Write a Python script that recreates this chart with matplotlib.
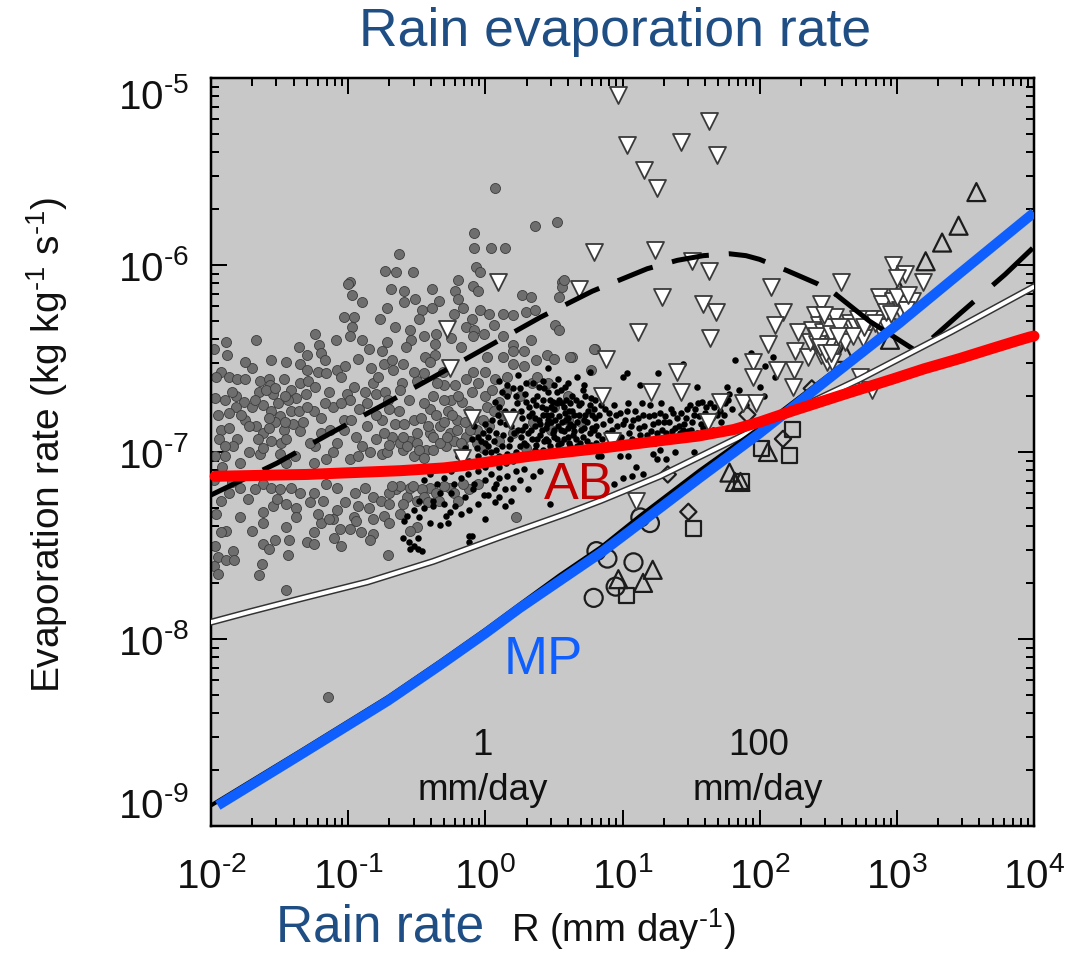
import matplotlib
matplotlib.use("Agg")
import matplotlib.pyplot as plt
import numpy as np
from matplotlib.ticker import LogLocator, NullFormatter, FixedLocator

plt.rcParams['font.family'] = ['Liberation Sans', 'DejaVu Sans']
plt.rcParams['mathtext.fontset'] = 'custom'
plt.rcParams['mathtext.rm'] = 'Liberation Sans'
plt.rcParams['mathtext.default'] = 'rm'

# all values are log10(R), log10(E)
gray_obs = [(-.08,-5.83),(-.08,-5.91),(.04,-5.91),(.14,-5.91),(-.63,-5.94),(-.07,-6.01),(-.04,-6.04),(-.73,-6.03),(-.65,-6.04),(-.53,-6.04),
(-.2,-6.08),(-.99,-6.09),(-1.0,-6.1),(-.69,-6.13),(-.59,-6.14),(-.39,-6.13),(-.09,-6.11),(-.05,-6.14),(-.22,-6.14),(-.97,-6.16),
(-.9,-6.2),(-.51,-6.18),(-.59,-6.2),(-.34,-6.19),(-.2,-6.18),(-.16,-6.23),(.27,-6.16),(.33,-6.17),(.56,-6.09),(.56,-6.12),(.54,-6.17),
(-.72,-6.23),(-.77,-6.29),(-1.03,-6.28),(-.96,-6.28),(-.97,-6.33),(-.99,-6.38),(-.66,-6.33),(-.46,-6.24),(-.39,-6.23),(-.48,-6.29),
(-.23,-6.26),(-.04,-6.24),(.03,-6.26),(.13,-6.26),(.2,-6.27),(.3,-6.25),(.36,-6.24),(.51,-6.32),(.54,-6.35),(-.1,-6.29),(.06,-6.32),
(-.14,-6.33),(-.08,-6.35),(-.01,-6.37),(-.55,-6.35),(-.54,-6.4),(-.45,-6.38),(-.36,-6.37),(-.37,-6.42),(-.25,-6.39),(-.09,-6.38),
(.13,-6.38),(.33,-6.4),(-1.89,-6.41),(-1.67,-6.4),(-1.24,-6.37),(-1.09,-6.4),(-1.88,-6.48),(-1.36,-6.44),(-1.21,-6.43),(-1.2,-6.47),
(-1.17,-6.51),(-1.56,-6.51),(-.85,-6.45),(-.93,-6.5),(-.58,-6.44),(-.18,-6.44),(-.44,-6.49),(-.37,-6.48),(-.4,-6.52),(-.74,-6.53),
(-.68,-6.51),(-.67,-6.56),(.2,-6.43),(.2,-6.46),(.28,-6.46),(.8,-6.45),(.63,-6.49),(.45,-6.48),(.5,-6.5),(.37,-6.51),(.01,-6.49),
(.13,-6.49),(.2,-6.53),(.28,-6.54),(.16,-6.6),(.07,-6.61),(0,-6.57),(-.09,-6.57),(-.14,-6.61),(-.31,-6.57),(-1.35,-6.53),(-1.3,-6.56),
(-1.22,-6.57),(-1.16,-6.58),(-1.08,-6.56),(-1.02,-6.54),(-1.93,-6.57),(-1.87,-6.6),(-1.81,-6.61),(-1.75,-6.61),(-1.64,-6.62),
(-1.58,-6.61),(-1.57,-6.64),(-1.65,-6.68),(-1.47,-6.61),(-1.42,-6.67),(-1.35,-6.63),(-1.29,-6.62),(-1.24,-6.65),(-1.31,-6.69),
(-1.38,-6.71),(-1.14,-6.68),(-.96,-6.65),(-1.01,-6.69),(-.99,-6.72),(-.82,-6.63),(-.88,-6.68),(-.8,-6.69),(-.73,-6.68),(-.71,-6.72),
(-.61,-6.63),(-.62,-6.67),(-.38,-6.7),(-.3,-6.64),(-.22,-6.64),(0,-6.7),(.05,-6.67),(.34,-6.63),(-1.97,-6.71),(-1.82,-6.7),(-1.76,-6.73),
(-1.82,-6.76),(-1.87,-6.79),(-1.62,-6.75),(-1.55,-6.69),(-1.51,-6.74),(-1.56,-6.78),(-1.5,-6.81),(-1.42,-6.78),(-1.53,-6.84),(-1.4,-6.85),
(-1.75,-6.83),(-1.67,-6.86),(-1.62,-6.9),(-1.93,-6.88),(-1.87,-6.87),(-1.35,-6.89),(-1.25,-6.78),(-1.11,-6.76),(-1.2,-6.82),(-1.03,-6.83),
(-1.03,-6.88),(-.94,-6.92),(-.9,-6.97),(-.75,-6.83),(-.63,-6.78),(-.66,-6.85),(-.52,-6.83),(-.4,-6.77),(-.27,-6.78),(-.17,-6.73),(.01,-6.76),
(-.33,-6.86),(-.21,-6.83),(-.68,-6.92),(-.55,-6.94),(-.4,-6.9),(-.26,-6.9),(-.14,-6.92),(-.06,-6.88),(-1.81,-6.93),(-1.84,-6.97),(-1.66,-6.93),
(-1.56,-6.94),(-1.49,-6.95),(-1.64,-7.01),(-1.5,-7.01),(-1.97,-7.02),(-1.9,-7.02),(-1.79,-7.06),(-1.39,-7.02),(-1.24,-6.97),(-1.08,-6.95),
(-1.11,-7.0),(-1.16,-7.04),(-.99,-7.04),(-.93,-7.02),(-.75,-7.01),(-.6,-6.99),(-.52,-7.02),(-.43,-6.99),(-.29,-6.97),(-.16,-6.97),(-.06,-6.95),
(-1.79,-7.19),(-1.87,-7.22),(-1.93,-7.26),(-1.73,-7.25),(-1.62,-7.17),(-1.56,-7.19),(-1.5,-7.2),(-1.42,-7.19),(-1.35,-7.22),(-1.28,-7.27),
(-1.18,-7.26),(-1.16,-7.17),(-1.08,-7.19),(-.88,-7.19),(-.82,-7.24),(-.76,-7.26),(-.65,-7.2),(-.57,-7.24),(-.5,-7.26),(-.4,-7.19),(-.26,-7.19),
(-.23,-7.22),(-1.96,-7.33),(-1.79,-7.35),(-1.62,-7.32),(-1.55,-7.29),(-1.62,-7.38),(-1.38,-7.3),(-1.38,-7.35),(-.93,-7.29),(-1.08,-7.31),
(-1.11,-7.36),(-.82,-7.36),(-.74,-7.34),(-.62,-7.33),(-.96,-7.35),(-1.2,-7.38),(-1.14,-7.36),(-1.06,-7.41),(-.99,-7.41),(-.5,-7.4),(.22,-7.35),
(-1.89,-7.42),(-1.25,-7.43),(-.91,-7.43),(-.82,-7.44),(-.84,-7.47),(-1.1,-7.46),(-1.3,-7.48),(-1.25,-7.49),(-1.62,-7.49),(-1.53,-7.47),
(-1.43,-7.47),(-1.58,-7.52),(-1.84,-7.53),(-1.95,-7.56),(-1.89,-7.58),(-1.83,-7.58),(-1.44,-7.55),(-.71,-7.55),(-1.63,-7.6),(-1.98,-7.61),
(-1.95,-7.65),(-1.65,-7.66),(-1.45,-7.74),(-1.15,-8.31),(.07,-5.59),(.36,-5.79),(.52,-5.77),(.62,-6.49),(.79,-6.45),(.77,-6.56),(.57,-6.08),
(-.62,-6.95),(-.57,-6.97),(-.5,-6.95),(-.48,-6.99),(-.38,-6.92),(-.33,-6.95),(-.23,-6.94),(-.21,-6.88),(-.11,-6.88),(-.18,-6.95),(-.5,-6.9),
(-.6,-6.92),(-.38,-6.99),(-.72,-7.0),(-.84,-7.0),(-.62,-7.18),(-.55,-7.19),(-.46,-7.2),(-.36,-7.22),(-.3,-7.18),(-.45,-7.24),(-.7,-7.22),
(-1.7,-6.76),(-1.47,-6.88),(-1.58,-6.87),(-1.94,-6.93),(-1.44,-6.72),(-1.62,-6.98),(-1.72,-7.0),(-.25,-6.72),(.48,-6.88),(.6,-6.83),(.3,-6.98)]

gray_extra = [(-1.98,-6.45),(-1.96,-6.6),(-1.95,-6.8),(-1.9,-6.72),(-1.85,-6.68),(-1.78,-6.8),(-1.72,-6.86),(-1.68,-6.72),(-1.6,-6.67),(-1.58,-6.82),
(-1.53,-6.66),(-1.46,-6.7),(-1.46,-6.84),(-1.45,-6.93),(-1.36,-6.78),(-1.33,-6.84),(-1.3,-6.76),(-1.28,-6.95),(-1.2,-6.9),(-1.17,-6.74),(-1.13,-6.88),
(-1.05,-6.74),(-.98,-6.83),(-.92,-6.77),(-.86,-6.86),(-.86,-6.74),(-.8,-6.8),(-.8,-6.93),(-.74,-6.9),(-.7,-6.77),(-.59,-6.85),(-.56,-6.72),(-.47,-6.82),
(-.45,-6.74),(-.42,-6.86),(-.36,-6.8),(-.3,-6.84),(-.28,-6.92),(-.24,-6.8),(-.15,-6.84),(-.12,-6.78),(-.08,-6.82),(-.02,-6.83),(.03,-6.86),(.06,-6.78),
(-.3,-6.72),(-.2,-6.7),(-.1,-6.68),(.1,-6.73),(.15,-6.68),(.25,-6.7),(.38,-6.6),(.46,-6.63),(.6,-6.7),(-.05,-6.63),(-.35,-6.63),(-.5,-6.62),(-.78,-6.6),
(-.75,-6.46),(-.6,-6.53),(-.52,-6.57),(-.45,-6.58),(-.72,-6.41),(-.83,-6.55),(-.9,-6.4),(-1.3,-6.48),(-1.45,-6.52),(-1.7,-6.55),(-1.75,-6.52),
(-1.92,-7.08),(-1.85,-7.16),(-1.68,-7.2),(-1.52,-7.25),(-1.45,-7.28),(-1.25,-7.22),(-1.22,-7.33),(-1.02,-7.27),(-.95,-7.22),(-.85,-7.3),(-.7,-7.28),(-.68,-7.18),
(-.6,-7.28),(-.53,-7.18),(-.42,-7.27),(-.34,-7.26),(-.2,-7.26),(-.12,-7.2),(-.05,-7.17),(-.16,-7.17),(-1.7,-7.42),(-1.45,-7.4),(-1.05,-7.5),(-.94,-7.37),
(-.7,-7.38),(-.55,-7.42),(-1.98,-7.15),(-1.93,-7.43),(-1.97,-7.5),(-1.05,-6.6),(-.45,-7.03),(-.7,-6.96),(-1.25,-7.06),(-1.45,-7.06),(-1.9,-6.97),(.1,-6.94),
(.2,-6.9),(.35,-6.84),(.5,-6.76),(.7,-6.84),(.13,-6.8),(-.02,-6.98)]

black_dots = [(.05,-6.83),(.08,-6.9),(.1,-6.76),(.12,-6.97),(.15,-6.85),(.16,-6.7),(.18,-6.93),(.2,-6.78),(.22,-7.0),(.24,-6.88),(.25,-6.66),(.27,-6.82),
(.28,-6.95),(.3,-6.73),(.31,-6.9),(.33,-7.02),(.34,-6.79),(.35,-6.63),(.36,-6.86),(.37,-6.96),(.38,-6.7),(.39,-6.83),(.4,-6.91),(.41,-6.76),(.42,-6.99),
(.43,-6.66),(.44,-6.87),(.45,-6.8),(.46,-6.94),(.47,-6.72),(.48,-6.84),(.49,-6.9),(.5,-6.77),(.51,-7.0),(.52,-6.68),(.53,-6.86),(.54,-6.81),(.55,-6.95),
(.56,-6.74),(.57,-6.89),(.58,-6.65),(.59,-6.83),(.6,-6.92),(.61,-6.78),(.62,-6.97),(.63,-6.7),(.64,-6.86),(.65,-6.8),(.66,-6.93),(.68,-6.75),(.7,-6.88),
(.71,-6.67),(.72,-6.83),(.74,-6.94),(.75,-6.78),(.77,-6.71),(.78,-6.87),(.8,-6.82),(.82,-6.91),(.84,-6.75),(.86,-6.85),(.88,-6.97),(.9,-6.79),
(.09,-6.8),(.13,-6.91),(.19,-6.86),(.23,-6.74),(.26,-6.92),(.29,-6.86),(.32,-6.81),(.34,-6.93),(.37,-6.75),(.4,-6.85),(.42,-6.8),(.44,-6.93),(.46,-6.83),
(.48,-6.76),(.5,-6.88),(.52,-6.93),(.54,-6.72),(.56,-6.84),(.58,-6.79),(.6,-6.87),(.62,-6.74),(.65,-6.89),(.67,-6.84),(.69,-6.95),(.73,-6.8),(.76,-6.9),
(.79,-6.77),(.81,-6.95),(-.15,-6.98),(-.1,-6.93),(-.05,-7.02),(-.02,-6.9),(.02,-6.97),(-.12,-7.05),(-.25,-7.1),
(.92,-6.88),(.95,-6.8),(.97,-6.93),(1.0,-6.85),(1.03,-6.78),(1.05,-6.9),(1.08,-6.83),(1.1,-6.94),(1.12,-6.87),(1.15,-6.8),(1.18,-6.91),(1.2,-6.75),
(1.22,-6.85),(1.25,-6.9),(1.27,-6.79),(1.3,-6.84),(1.32,-6.9),(1.35,-6.77),(1.38,-6.87),(1.4,-6.82),(1.42,-6.9),(1.45,-6.85),(1.47,-6.77),(1.5,-6.88),
(1.52,-6.8),(1.55,-6.74),(1.57,-6.85),(1.6,-6.79),(1.62,-6.9),(1.65,-6.82),(1.67,-6.76),(1.7,-6.72),(1.72,-6.84),(1.75,-6.74),(1.78,-6.69),
(1.0,-6.6),(1.03,-6.58),(1.26,-6.58),(1.44,-6.53),(1.13,-6.64),(1.54,-6.65),(1.76,-6.65),(1.82,-6.51),(1.94,-6.47),(2.1,-6.49),(2.0,-6.65),(2.03,-6.7),
(2.04,-6.54),(2.11,-6.6),(.98,-7.02),(1.04,-7.02),(1.22,-7.01),(1.27,-6.99),(1.52,-7.0),(1.38,-7.0),(1.25,-7.04),(1.32,-7.04),(1.1,-7.08),(1.15,-7.12),
(1.0,-7.14),(.94,-7.17),(1.07,-7.13),(.84,-7.02),(-.57,-7.34),(-.59,-7.37),(-.38,-7.29),(-.4,-7.38),(-.33,-7.39),(-.27,-7.38),(-.29,-7.34),(-.26,-7.32),
(-.18,-7.33),(-.12,-7.31),(-.01,-7.23),(.07,-7.27),(0,-7.36),(.14,-7.29),(.19,-7.26),(.47,-7.28),(.31,-7.2),(.2,-7.19),(.06,-7.19),(-.09,-7.2),(-.23,-7.17),
(-.33,-7.22),(-.38,-7.26),(-.48,-7.35),(-.52,-7.31),(.35,-7.13),(.4,-7.1),(.25,-7.15),(.82,-7.02),(.79,-6.88),(-.6,-7.46),(-.56,-7.48),(-.52,-7.5),(-.49,-7.52),
(-.46,-7.53),(-.49,-7.46),(-.55,-7.52),(-.12,-7.45),(-.1,-7.45),(-.12,-7.48),(0,-6.95),(-.05,-6.92),(0,-7.0),(.05,-7.05),(.1,-7.08),(.15,-7.06),(.2,-7.05),
(.12,-6.68),(.24,-6.59),(.46,-6.55),(.67,-6.6),(.53,-6.61),(.76,-6.57)]

black_extra = [(.03,-6.88),(.06,-6.94),(.07,-6.73),(.11,-6.84),(.14,-6.78),(.17,-6.97),(.17,-6.82),(.21,-6.9),(.22,-6.7),(.25,-6.97),(.26,-6.78),(.27,-6.88),(.29,-6.69),
(.3,-6.96),(.32,-6.76),(.33,-6.88),(.35,-6.72),(.36,-6.99),(.36,-6.82),(.38,-6.93),(.39,-6.65),(.41,-6.88),(.42,-6.72),(.43,-6.94),(.44,-6.77),(.45,-6.85),(.46,-6.68),
(.47,-6.97),(.48,-6.8),(.49,-6.73),(.5,-6.92),(.51,-6.83),(.52,-6.74),(.53,-6.96),(.55,-6.67),(.55,-6.88),(.57,-6.76),(.57,-6.93),(.59,-6.72),(.6,-6.82),(.61,-6.95),
(.62,-6.85),(.63,-6.78),(.64,-6.91),(.66,-6.72),(.67,-6.97),(.68,-6.8),(.7,-6.74),(.71,-6.92),(.72,-6.87),(.73,-6.7),(.74,-6.84),(.76,-6.75),(.77,-6.96),(.78,-6.8),
(.8,-6.72),(.81,-6.86),(.83,-6.8),(.85,-6.93),(.87,-6.77),(.89,-6.9),(.91,-6.83),(.93,-6.96),(.94,-6.75),(.96,-6.86),(.98,-6.79),(.99,-6.92),(1.01,-6.96),(1.02,-6.83),
(1.04,-6.74),(1.06,-6.86),(1.07,-6.93),(1.09,-6.78),(1.11,-6.82),(1.13,-6.91),(1.14,-6.74),(1.16,-6.86),(1.17,-6.95),(1.19,-6.81),(1.21,-6.89),(1.23,-6.8),(1.24,-6.95),
(1.26,-6.84),(1.28,-6.74),(1.29,-6.88),(1.31,-6.81),(1.33,-6.93),(1.34,-6.84),(1.36,-6.89),(1.37,-6.79),(1.39,-6.93),(1.41,-6.86),(1.43,-6.79),(1.44,-6.88),(1.46,-6.82),
(1.48,-6.89),(1.49,-6.75),(1.51,-6.84),(1.53,-6.77),(1.54,-6.9),(1.56,-6.81),(1.58,-6.73),(1.59,-6.87),(1.61,-6.76),(1.63,-6.83),(1.64,-6.74),(1.66,-6.88),(1.69,-6.8),
(1.71,-6.78),(1.74,-6.8),(1.77,-6.72),(1.8,-6.77),(1.85,-6.67),(1.9,-6.75),(.1,-6.62),(.16,-6.64),(.2,-6.66),(.3,-6.63),(.42,-6.62),(.5,-6.64),(.6,-6.63),(.72,-6.64),
(-.08,-6.86),(-.06,-6.98),(-.03,-6.94),(0,-6.85),(.02,-6.92),(.04,-7.0),(.08,-6.99),(.1,-7.02),(.16,-7.01),(.26,-7.02),(-.2,-7.02),(-.22,-7.07),(-.3,-7.14),
(-.18,-7.14),(-.13,-7.12),(-.05,-7.1),(0,-7.08),(.04,-7.12),(.1,-7.14),(.16,-7.13),(.22,-7.1),(.28,-7.09),(-.08,-7.17),(0,-7.15),(.08,-7.17),(.14,-7.2),
(-.35,-7.17),(-.4,-7.12),(-.45,-7.15),(-.25,-7.22),(-.15,-7.24),(-.05,-7.28),(.02,-7.23),(.1,-7.24),(-.22,-7.29),(-.3,-7.28),(-.45,-7.3),(-.48,-7.26)]

tri_down = [(.97,-5.09),(1.03,-5.36),(1.16,-5.49),(1.43,-5.34),(1.63,-5.23),(1.69,-5.41),(1.25,-5.59),(1.24,-5.92),(.79,-5.93),(.09,-6.09),(.68,-6.13),
(1.29,-6.17),(1.51,-5.98),(1.63,-6.03),(1.59,-6.21),(1.68,-6.25),(1.11,-6.36),(1.64,-6.39),(-.28,-6.34),(-.26,-6.55),(-.10,-6.82),(.18,-6.83),(-.17,-7.03),
(.88,-6.50),(2.08,-6.12),(2.17,-6.25),(2.11,-6.32),(2.06,-6.42),(1.95,-6.52),(1.40,-6.57),(1.95,-6.60),(2.13,-6.56),(2.25,-6.56),(2.24,-6.65),(1.21,-6.68),
(1.43,-6.68),(.85,-6.70),(1.71,-6.73),(1.88,-6.74),(1.97,-6.74),(1.62,-6.84),(.92,-6.94),(1.10,-7.26),(2.59,-6.09),(2.45,-6.21),(2.28,-6.36),(2.26,-6.46),
(2.35,-6.49),(2.97,-6.0),(3.06,-6.05),(3.0,-6.07),(3.19,-6.09),(2.87,-6.17),(2.89,-6.21),(2.97,-6.19),(3.04,-6.21),(3.11,-6.19),(3.02,-6.24),(2.88,-6.29),
(2.78,-6.34),(2.66,-6.35),(2.55,-6.28),(2.40,-6.27),(2.43,-6.32),(2.38,-6.35),(2.46,-6.36),(2.55,-6.41),(2.56,-6.44),(2.37,-6.41),(2.66,-6.31),(2.45,-6.48),
(2.49,-6.52),(2.53,-6.52),(2.73,-6.60),(2.82,-6.67),(2.88,-6.34),(2.75,-6.39),(2.93,-6.33),(3.07,-6.24),(2.5,-6.33),(2.6,-6.38),(2.42,-6.42),(2.7,-6.33),(2.8,-6.29),
(2.47,-6.27),(2.41,-6.38),(2.52,-6.37),(2.58,-6.33),(2.62,-6.41),(2.68,-6.38),(2.72,-6.29),(2.76,-6.33),(2.84,-6.31),(2.92,-6.25),(2.96,-6.26),(3.0,-6.17),(3.08,-6.16),
(2.5,-6.44),(2.44,-6.44),(2.48,-6.47),(2.52,-6.47),(2.57,-6.38)]
tri_up = [(3.58,-5.61),(3.45,-5.79),(3.33,-5.88),(3.21,-5.98),(3.02,-6.14),(2.06,-7.0),(1.78,-7.11),(1.82,-7.16),(1.86,-7.16),(.97,-7.68),(1.22,-7.63),
(1.15,-7.70),(2.62,-6.47),(2.56,-6.35),(2.95,-6.40)]
circles = [(1.13,-7.35),(1.20,-7.38),(.81,-7.53),(.89,-7.57),(1.08,-7.59),(.95,-7.72),(.79,-7.78)]
squares = [(1.52,-7.41),(1.03,-7.77),(2.22,-7.02),(1.87,-7.16),(2.24,-6.88),(2.01,-6.98)]
diamonds = [(1.48,-7.32),(2.17,-6.93),(1.33,-7.12),(1.91,-6.80),(2.38,-6.66)]

ab_logR = [-1.97,-1.3,-.62,-.3,-.13,.1,.35,.6,.84,1.27,1.55,1.81,2.0,2.12,2.24,2.6,2.97,3.2,3.46,3.7,3.9,3.97,4.0]
ab_logE = [-7.13,-7.12,-7.10,-7.085,-7.07,-7.045,-7.02,-7.0,-6.98,-6.94,-6.915,-6.88,-6.84,-6.81,-6.78,-6.695,-6.61,-6.555,-6.50,-6.445,-6.40,-6.385,-6.38]
mp_logR = [-1.95,-1.35,-.71,-.33,0,.25,.54,.85,1.13,1.56,2.0,2.5,3.02,3.45,3.85,4.0]
mp_logE = [-8.89,-8.62,-8.33,-8.14,-7.97,-7.835,-7.69,-7.535,-7.38,-7.14,-6.90,-6.61,-6.31,-6.05,-5.81,-5.72]
thin_logR = [-2,-1.35,-.71,-.33,0,.25,.54,.85,1.13,1.56,2.0,2.5,3.02,3.45,4.0]
thin_logE = [-8.89,-8.60,-8.31,-8.12,-7.95,-7.815,-7.66,-7.505,-7.34,-7.10,-6.87,-6.59,-6.30,-6.04,-5.72]
white_logR = [-2,-1.72,-1.35,-.86,-.38,.107,.59,.84,1.27,1.91,2.3,2.73,3.4,3.99]
white_logE = [-7.91,-7.855,-7.785,-7.695,-7.585,-7.455,-7.33,-7.26,-7.13,-6.90,-6.76,-6.61,-6.355,-6.12]
dash_logR = [-2,-1.52,-1.13,-.75,-.38,.01,.40,.78,1.18,1.4,1.59,1.78,1.9,2.0,2.2,2.42,2.56]
dash_logE = [-7.23,-7.06,-6.90,-6.75,-6.60,-6.44,-6.28,-6.14,-6.02,-5.975,-5.95,-5.94,-5.95,-5.97,-6.03,-6.10,-6.16]
solid_logR = [2.56,2.8,3.12]
solid_logE = [-6.16,-6.3,-6.45]
dash2_logR = [3.26,3.46,3.79,3.99]
dash2_logE = [-6.39,-6.26,-6.05,-5.91]

x_ticks = [-2,-1,0,1,2,3,4]
y_ticks = [-5,-6,-7,-8,-9]

def xy(p):
    a = 10.0 ** np.array(p)
    return a[:, 0], a[:, 1]

W, H = 1082, 955
PX = 0.72
fig = plt.figure(figsize=(W/100, H/100), dpi=100, facecolor='white')
ax = fig.add_axes([211/W, 1-826/H, (1034-211)/W, (826-78)/H])
ax.set_facecolor('#c8c8c8')
ax.set_xscale('log'); ax.set_yscale('log')
ax.set_xlim(1e-2, 1e4); ax.set_ylim(1e-9, 1e-5)

ax.scatter(*xy(gray_obs + gray_extra), s=(10*PX)**2, c='#6e6e6e', edgecolors='#3c3c3c', linewidths=0.6, zorder=2)
ax.scatter(*xy(black_dots + black_extra), s=(6.5*PX)**2, c='black', linewidths=0, zorder=3)
open_kw = dict(facecolors='none', edgecolors='#1c1c1c', linewidths=1.6, zorder=4)
ax.scatter(*xy(tri_up), marker='^', s=(18*PX)**2, **open_kw)
ax.scatter(*xy(circles), marker='o', s=(18*PX)**2, **open_kw)
ax.scatter(*xy(squares), marker='s', s=(15*PX)**2, **open_kw)
ax.scatter(*xy(diamonds), marker='D', s=(11.5*PX)**2, **open_kw)
ax.scatter(*xy(tri_down), marker='v', s=(17*PX)**2, facecolors='white', edgecolors='#3a3a3a', linewidths=1.3, zorder=5)

ax.plot(10.0**np.array(dash_logR), 10.0**np.array(dash_logE), color='black', lw=5*PX, dashes=(7.5, 4), zorder=6)
ax.plot(10.0**np.array(solid_logR), 10.0**np.array(solid_logE), color='black', lw=5*PX, zorder=6)
ax.plot(10.0**np.array(dash2_logR), 10.0**np.array(dash2_logE), color='black', lw=5*PX, dashes=(11, 5), zorder=6)
wr, we = 10.0**np.array(white_logR), 10.0**np.array(white_logE)
ax.plot(wr, we, color='#333333', lw=7*PX, zorder=7)
ax.plot(wr, we, color='white', lw=4*PX, zorder=7.1)
ax.plot(10.0**np.array(thin_logR), 10.0**np.array(thin_logE), color='black', lw=4*PX, zorder=8)
ax.plot(10.0**np.array(mp_logR), 10.0**np.array(mp_logE), color='#0f5fff', lw=10*PX, solid_capstyle='butt', zorder=9)
ax.plot(10.0**np.array(ab_logR), 10.0**np.array(ab_logE), color='#ff0000', lw=11*PX, solid_capstyle='round', clip_on=False, zorder=10)

ax.tick_params(which='major', direction='in', length=16*PX, width=2*PX, top=True, right=True)
ax.tick_params(axis='x', which='major', pad=22)
ax.tick_params(axis='y', which='major', pad=16)
ax.tick_params(which='minor', direction='in', length=8*PX, width=2*PX, top=True, right=True)
for s in ax.spines.values():
    s.set_linewidth(2.5*PX)
ax.xaxis.set_major_locator(FixedLocator([10.0**v for v in x_ticks]))
ax.yaxis.set_major_locator(FixedLocator([10.0**v for v in y_ticks]))
ax.xaxis.set_minor_locator(LogLocator(base=10, subs=np.arange(2, 10), numticks=20))
ax.yaxis.set_minor_locator(LogLocator(base=10, subs=np.arange(2, 10), numticks=20))
ax.xaxis.set_minor_formatter(NullFormatter()); ax.yaxis.set_minor_formatter(NullFormatter())
ax.set_xticklabels([rf'10$^{{\text{{-}}{abs(v)}}}$' if v < 0 else rf'10$^{{{v}}}$' for v in x_ticks], fontsize=29, color='#111111')
ax.set_yticklabels([rf'10$^{{\text{{-}}{abs(v)}}}$' for v in y_ticks], fontsize=29, color='#111111')
yl = ax.get_yticklabels()
yl[0].set_va('top'); yl[-1].set_va('bottom')

t_kw = dict(color='#111111', fontsize=26.5, ha='center', va='center', zorder=12)
ax.text(10**-.02, 10**-8.57, '1', **t_kw)
ax.text(10**-.02, 10**-8.81, 'mm/day', **t_kw)
ax.text(10**1.99, 10**-8.57, '100', **t_kw)
ax.text(10**1.99, 10**-8.81, 'mm/day', **t_kw)
ax.text(10**.68, 10**-7.18, 'AB', color='#c00000', fontsize=37.5, ha='center', va='center', zorder=12)
ax.text(10**.42, 10**-8.11, 'MP', color='#0f5fff', fontsize=38, ha='center', va='center', zorder=12)

fig.text(615/W, 1-32/H, 'Rain evaporation rate', color='#1f4e84', fontsize=38.5, ha='center', va='center')
fig.text(276/W, 1-928/H, 'Rain rate', color='#1f4e84', fontsize=37, ha='left', va='center')
fig.text(511/W, 1-929/H, r'R (mm day$^{\text{-}1}$)', color='#111111', fontsize=27.5, ha='left', va='center')
fig.text(47/W, 1-445/H, r'Evaporation rate (kg kg$^{\text{-}1}$ s$^{\text{-}1}$)', color='#111111', fontsize=28, rotation=90, ha='center', va='center')

fig.savefig('out.png', dpi=100)
